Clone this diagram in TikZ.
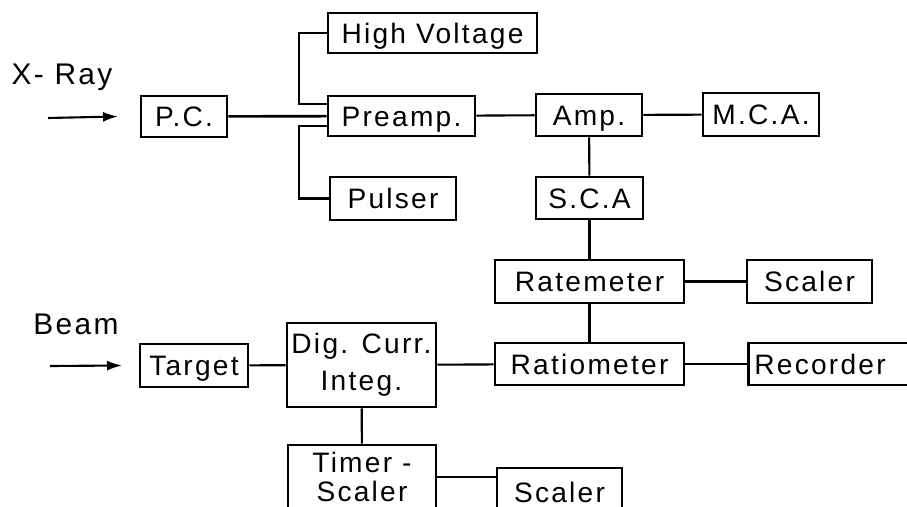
\documentclass[tikz,border=0pt]{standalone}
\usepackage{fontspec}
\setmainfont{Liberation Sans}[LetterSpace=8]
\usepackage{tikz}
\usetikzlibrary{calc,positioning,arrows.meta}

\begin{document}
\begin{tikzpicture}[
    box/.style={rectangle, draw, line width=1.5pt, inner sep=0pt, text height=11.5pt, text depth=0pt, font=\fontsize{16}{19}\selectfont},
    bigbox/.style={rectangle, draw, line width=1.5pt, inner sep=0pt, align=center},
    label/.style={font=\fontsize{17}{20}\selectfont},
    wire/.style={line width=1.2pt},
    arrow/.style={-{Latex[length=3mm,width=2mm]}, line width=1.2pt}
]
    \useasboundingbox (0,0) rectangle (18.14,-10.14);

    % X-ray branch
    \node[label] (xray) at (1.24, -1.54) {X- Ray};
    \coordinate (xin) at (0.96, -2.36);
    \node[box, minimum width=1.72cm, minimum height=0.82cm] (pc) at (3.68, -2.33) {P.C.};
    \node[box, minimum width=4.18cm, minimum height=0.80cm] (hv) at (8.65, -0.66) {High Voltage};
    \node[box, minimum width=2.94cm, minimum height=0.80cm] (preamp) at (8.03, -2.32) {Preamp.};
    \node[box, minimum width=2.52cm, minimum height=0.86cm] (pulser) at (7.86, -3.97) {Pulser};
    \node[box, minimum width=2.12cm, minimum height=0.84cm] (amp) at (11.78, -2.30) {Amp.};
    \node[box, minimum width=2.32cm, minimum height=0.86cm] (mca) at (15.22, -2.29) {M.C.A.};
    \node[box, minimum width=2.14cm, minimum height=0.84cm] (sca) at (11.79, -3.96) {S.C.A};
    \node[box, minimum width=3.78cm, minimum height=0.86cm] (ratemeter) at (11.79, -5.63) {Ratemeter};
    \node[box, minimum width=2.50cm, minimum height=0.86cm] (scaler) at (16.19, -5.63) {Scaler};

    % Beam branch
    \node[label] (beam) at (1.52, -6.48) {Beam};
    \coordinate (bin) at (1.00, -7.32);
    \node[box, minimum width=2.16cm, minimum height=0.86cm] (target) at (3.88, -7.31) {Target};
    \node[bigbox, minimum width=2.98cm, minimum height=1.68cm, font=\fontsize{16}{21}\selectfont] (dci) at (7.23, -7.30) {Dig. Curr.\\Integ.};
    \node[box, minimum width=3.78cm, minimum height=0.84cm] (ratiometer) at (11.79, -7.28) {Ratiometer};
    \node[box, anchor=west, minimum height=0.84cm, text width=3.22cm, inner xsep=0.12cm, align=left] (recorder) at (14.94, -7.28) {Recorder};
    \node[bigbox, minimum width=2.96cm, minimum height=1.28cm, font=\fontsize{16}{16.5}\selectfont] (timer) at (7.24, -9.54) {Timer -\\Scaler};
    \node[box, minimum width=2.50cm, minimum height=0.96cm] (scalertwo) at (11.19, -9.84) {Scaler};

    \draw[arrow] (xin) -- (pc.west -| 2.36, 0);
    \draw[arrow] (bin) -- (target.west -| 2.44, 0);

    \draw[wire, line width=1.5pt] (pc) -- (preamp);
    \draw[wire] (hv.west) -- ++(-0.56, 0) |- ([yshift=0.24cm]preamp.west);
    \draw[wire] (pulser.west) -- ++(-0.6, 0) |- ([yshift=-0.2cm]preamp.west);
    \draw[wire] (preamp) -- (amp);
    \draw[wire] (amp) -- (mca);
    \draw[wire] (amp) -- (sca);
    \draw[wire] (sca) -- (ratemeter);
    \draw[wire] (ratemeter) -- (scaler);
    \draw[wire] (ratemeter) -- (ratiometer);
    \draw[wire] (ratiometer) -- (recorder);
    \draw[wire] (target) -- (dci);
    \draw[wire] (dci) -- (ratiometer);
    \draw[wire] (dci) -- (timer);
    \draw[wire] (timer) -- (scalertwo.west |- timer);
\end{tikzpicture}
\end{document}
